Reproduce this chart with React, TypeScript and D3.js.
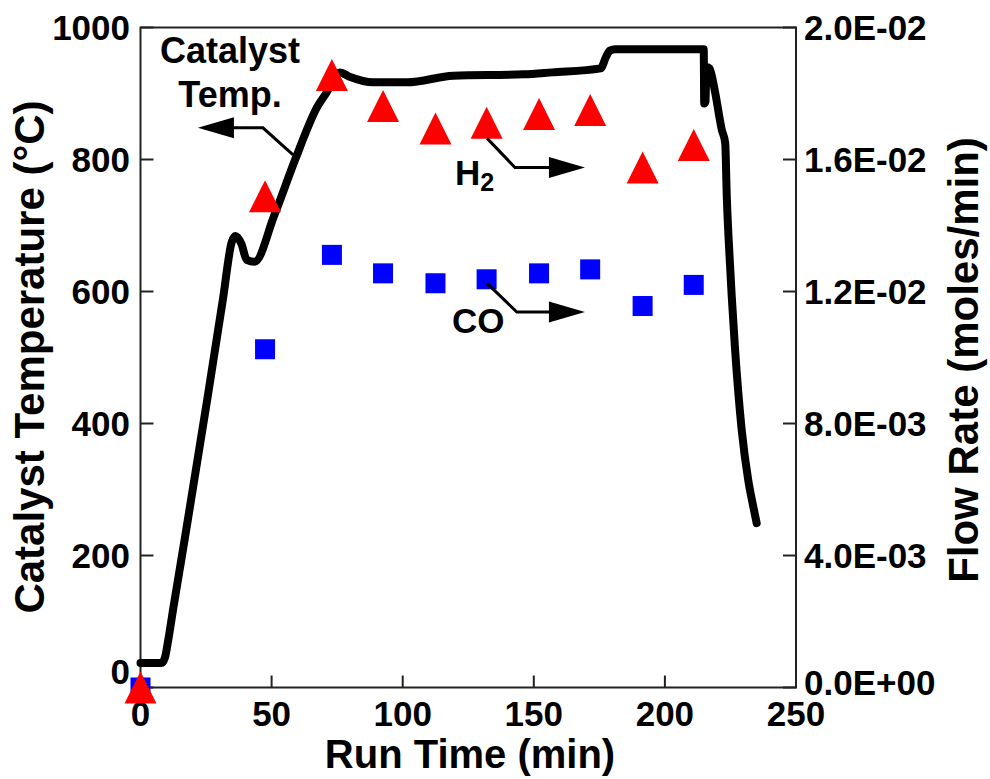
import React from "react";
import * as d3 from "d3";

// Catalyst temperature trace (run time in min, temperature in °C)
const lineTime = [0, 8, 9.3, 10.5, 12.5, 15, 17.2, 25.6, 31.5, 34.8, 36.2, 38.5, 40.5, 43.5, 51, 59, 67.3, 71.5, 74, 76, 80, 88.7, 101.7, 119.3, 146, 157, 175.5, 177.5, 179, 181, 214.8, 215, 215.5, 215.8, 217, 219, 221.7, 223, 223.6, 224.8, 225.5, 226.7, 229.3, 231.8, 233.5, 235];
const lineTemp = [37, 37, 45, 70, 120, 180, 233, 440, 590, 675, 684, 672, 648, 645, 715, 800, 879, 905, 925, 932, 925, 917, 917, 927, 929, 932, 938, 955, 965, 967, 967, 885, 888, 940, 938, 905, 845, 825, 744, 643, 592, 516, 390, 314, 278, 249];

// Sampled gas flow rates (moles/min)
const sampleTime = [0, 47.5, 73, 92.5, 112.5, 132, 152, 171.5, 191.5, 211];
const h2Flow = [0, 0.01489, 0.01856, 0.01762, 0.01694, 0.01711, 0.01738, 0.0175, 0.01576, 0.01644];
const coFlow = [0, 0.01025, 0.01311, 0.01255, 0.01225, 0.01237, 0.01255, 0.01267, 0.01156, 0.0122];

const xTicks = [0, 50, 100, 150, 200, 250];
const yTicks = [0, 200, 400, 600, 800, 1000];
const y2Ticks = [0, 0.004, 0.008, 0.012, 0.016, 0.02];
const y2Labels = ["0.0E+00", "4.0E-03", "8.0E-03", "1.2E-02", "1.6E-02", "2.0E-02"];

const FONT = "'Liberation Sans', Arial, Helvetica, sans-serif";

export default function App() {
  const W = 990, H = 779;
  const x = d3.scaleLinear().domain([0, 250]).range([140.5, 796]);
  const y = d3.scaleLinear().domain([0, 1000]).range([687.5, 27.5]);
  const y2 = d3.scaleLinear().domain([0, 0.02]).range([687.5, 27.5]);

  const linePts: [number, number][] = lineTime.map((t, i) => [t, lineTemp[i]]);
  const traceGen = d3.line<[number, number]>().x(d => x(d[0])).y(d => y(d[1])).curve(d3.curveMonotoneX);
  const lineGen = d3.line<[number, number]>().x(d => x(d[0])).y(d => y(d[1])).curve(d3.curveLinear);

  const triSize = 32;
  const sqSize = 20;
  const tri = (cx: number, cy: number) =>
    `M${cx},${cy - triSize / 2}L${cx + triSize / 2},${cy + triSize / 2}L${cx - triSize / 2},${cy + triSize / 2}Z`;

  const arrowHead = (tipX: number, tipY: number, dir: number) => {
    const len = 36, half = 10.5;
    return `M${tipX},${tipY}L${tipX - dir * len},${tipY - half}L${tipX - dir * len},${tipY + half}Z`;
  };

  // annotation paths in data coordinates
  const catArrow: [number, number][] = [[58.2, 807], [46.7, 848], [24, 848]];
  const h2Arrow: [number, number][] = [[132.2, 832], [142.8, 788], [166, 788]];
  const coArrow: [number, number][] = [[132.0, 613], [143.5, 569], [166, 569]];
  const pathOf = (pts: [number, number][]) => lineGen(pts) as string;

  return (
    <svg width={W} height={H} style={{ position: "absolute", left: 0, top: 0, background: "#fff" }} fontFamily={FONT}>
      <rect x={0} y={0} width={W} height={H} fill="#fff" />
      {/* frame */}
      <rect x={x(0)} y={y(1000)} width={x(250) - x(0)} height={y(0) - y(1000)} fill="none" stroke="#222" strokeWidth={2} />
      {/* bottom ticks */}
      {xTicks.map(t => (
        <g key={"xt" + t}>
          <line x1={x(t)} x2={x(t)} y1={y(0)} y2={y(0) - 12} stroke="#222" strokeWidth={2} />
          <text x={x(t)} y={726} textAnchor="middle" fontSize={35} fontWeight="bold" fill="#000">{t}</text>
        </g>
      ))}
      {/* left ticks */}
      {yTicks.map(v => (
        <g key={"yt" + v}>
          <line x1={x(0)} x2={x(0) + 13} y1={y(v)} y2={y(v)} stroke="#222" strokeWidth={2} />
          <text x={130} y={y(v) + 12.5 - (v === 0 ? 16 : 0)} textAnchor="end" fontSize={35} fontWeight="bold" fill="#000">{v}</text>
        </g>
      ))}
      {/* right ticks */}
      {y2Ticks.map((v, i) => (
        <g key={"y2t" + i}>
          <line x1={x(250)} x2={x(250) - 13} y1={y2(v)} y2={y2(v)} stroke="#222" strokeWidth={2} />
          <text x={804} y={y2(v) + 12.5 - (i === 0 ? 5 : 0)} textAnchor="start" fontSize={35} fontWeight="bold" fill="#000">{y2Labels[i]}</text>
        </g>
      ))}
      {/* axis titles */}
      <text x={470} y={768} textAnchor="middle" fontSize={40} fontWeight="bold">Run Time (min)</text>
      <text transform={`translate(44,357) rotate(-90)`} textAnchor="middle" fontSize={42} fontWeight="bold">Catalyst Temperature (°C)</text>
      <text transform={`translate(978,360) rotate(-90)`} textAnchor="middle" fontSize={42} fontWeight="bold">Flow Rate (moles/min)</text>

      {/* temperature trace */}
      <path d={traceGen(linePts) as string} fill="none" stroke="#000" strokeWidth={8} strokeLinejoin="round" strokeLinecap="round" />

      {/* CO squares */}
      {sampleTime.map((t, i) => (
        <rect key={"co" + i} x={x(t) - sqSize / 2} y={y2(coFlow[i]) - sqSize / 2} width={sqSize} height={sqSize} fill="#0000ff" />
      ))}
      {/* H2 triangles */}
      {sampleTime.map((t, i) => (
        <path key={"h2" + i} d={tri(x(t), y2(h2Flow[i]))} fill="#ff0000" />
      ))}

      {/* annotations */}
      <text x={230} y={63} textAnchor="middle" fontSize={36} fontWeight="bold">Catalyst</text>
      <text x={230} y={107} textAnchor="middle" fontSize={36} fontWeight="bold">Temp.</text>
      <path d={pathOf(catArrow)} fill="none" stroke="#000" strokeWidth={3} />
      <path d={arrowHead(x(21.9), y(848), -1)} fill="#000" />

      <path d={pathOf(h2Arrow)} fill="none" stroke="#000" strokeWidth={3} />
      <path d={arrowHead(x(169.5), y(788), 1)} fill="#000" />
      <text x={455} y={185} fontSize={35} fontWeight="bold">H<tspan fontSize={25} dy={6}>2</tspan></text>

      <path d={pathOf(coArrow)} fill="none" stroke="#000" strokeWidth={3} />
      <path d={arrowHead(x(169.5), y(569), 1)} fill="#000" />
      <text x={452} y={333} fontSize={35} fontWeight="bold">CO</text>
    </svg>
  );
}
